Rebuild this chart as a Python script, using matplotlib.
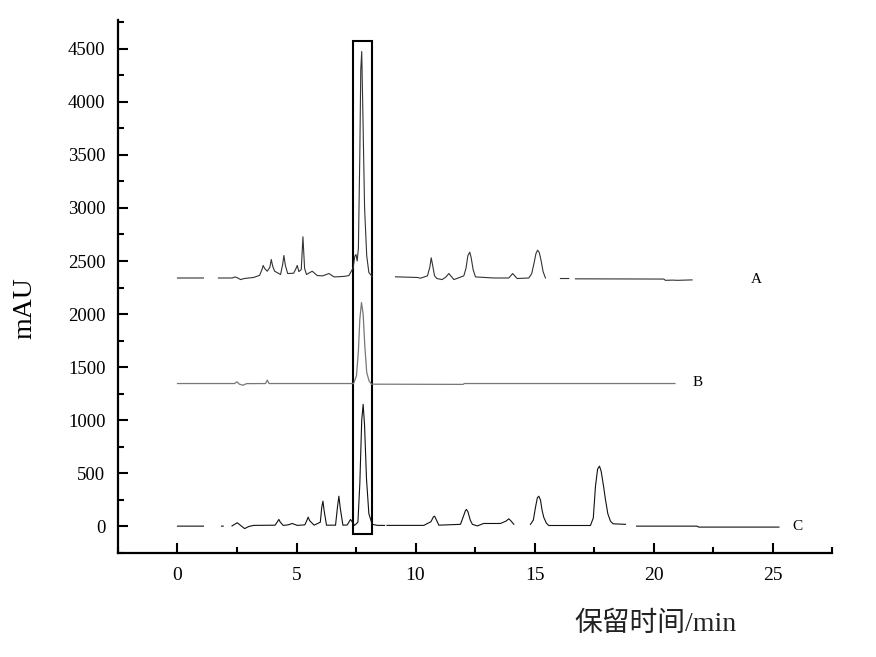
import numpy as np
import matplotlib
matplotlib.use("Agg")
import matplotlib.pyplot as plt
from matplotlib.patches import Rectangle
from matplotlib.ticker import MultipleLocator

nan = np.nan

# trace A (offset chromatogram), nan = gap in the printed trace
time_a = [0.0, 1.09, nan,
          1.72, 2.3, 2.42, 2.55, 2.65, 2.8, 3.2, 3.45, 3.55, 3.6, 3.66, 3.77, 3.88,
          3.94, 4.0, 4.08, 4.33, 4.42, 4.47, 4.53, 4.63, 4.88, 4.98, 5.03, 5.1,
          5.2, 5.27, 5.34, 5.42, 5.66, 5.87, 6.1, 6.36, 6.58, 7.0, 7.2, 7.38,
          7.45, 7.5, 7.55, 7.6, 7.66, 7.7, 7.74, 7.78, 7.86, 7.95, 8.04, 8.18, nan,
          9.16, 10.07, 10.21, 10.5, 10.6, 10.66, 10.72, 10.8, 10.9, 11.12, 11.28,
          11.4, 11.52, 11.61, 12.03, 12.12, 12.2, 12.28, 12.34, 12.42, 12.52, 13.29,
          13.92, 14.0, 14.08, 14.17, 14.27, 14.76, 14.88, 14.98, 15.06, 15.13,
          15.2, 15.28, 15.36, 15.46, nan,
          16.09, 16.44, nan,
          16.72, 20.43, 20.5, 20.8, 21.0, 21.62]
mau_a = [2340, 2340, nan,
         2340, 2340, 2350, 2338, 2325, 2335, 2345, 2365, 2420, 2458, 2430, 2404, 2440,
         2514, 2450, 2404, 2373, 2470, 2552, 2460, 2382, 2385, 2430, 2458, 2400,
         2420, 2728, 2430, 2373, 2404, 2363, 2360, 2382, 2350, 2355, 2363, 2435,
         2545, 2561, 2500, 2620, 3500, 4300, 4473, 4000, 3000, 2550, 2392, 2354, nan,
         2351, 2345, 2338, 2360, 2440, 2530, 2460, 2360, 2335, 2325, 2350,
         2382, 2350, 2325, 2360, 2430, 2550, 2583, 2530, 2420, 2350, 2340,
         2340, 2360, 2382, 2360, 2335, 2340, 2380, 2480, 2570, 2602,
         2580, 2500, 2400, 2340, nan,
         2335, 2335, nan,
         2332, 2330, 2318, 2320, 2318, 2322]

# trace B
time_b = [0.0, 2.4, 2.5, 2.6, 2.75, 2.9, 3.7, 3.77, 3.85, 7.4, 7.52, 7.6, 7.66,
          7.73, 7.8, 7.87, 7.95, 8.05, 8.15, 12.0, 12.05, 20.9]
mau_b = [1346, 1346, 1362, 1340, 1330, 1345, 1346, 1378, 1346, 1346, 1420, 1650, 1950,
         2109, 2000, 1700, 1450, 1370, 1340, 1338, 1346, 1346]

# trace C
time_c = [0.0, 1.09, nan,
          1.85, 1.92, nan,
          2.29, 2.51, 2.65, 2.82, 3.0, 3.2, 4.1, 4.2, 4.26, 4.32, 4.44, 4.65, 4.82,
          5.03, 5.35, 5.44, 5.49, 5.55, 5.74, 6.0, 6.06, 6.11, 6.16, 6.26, 6.64,
          6.72, 6.78, 6.84, 6.95, 7.13, 7.27, 7.44, 7.58, 7.66, 7.74, 7.8, 7.86,
          7.94, 8.04, 8.18, 8.4, 8.7, nan,
          8.8, 10.35, 10.65, 10.75, 10.8, 10.86, 10.98, 11.89, 12.02, 12.1, 12.14,
          12.2, 12.3, 12.39, 12.6, 12.86, 13.57, 13.8, 13.92, 14.02, 14.13, nan,
          14.83, 14.95, 15.04, 15.12, 15.18, 15.25, 15.32, 15.39, 15.5, 15.6, 17.35,
          17.47, 17.56, 17.65, 17.73, 17.8, 17.9, 17.98, 18.08, 18.19, 18.3, 18.82, nan,
          19.29, 21.83, 21.9, 25.27]
mau_c = [3, 3, nan,
         3, 3, nan,
         5, 35, 10, -20, 0, 10, 12, 45, 66, 40, 10, 15, 28,
         10, 15, 60, 88, 55, 12, 40, 180, 238, 150, 12, 12,
         180, 285, 170, 12, 14, 66, 10, 40, 400, 1000, 1150, 950,
         450, 120, 20, 10, 10, nan,
         10, 10, 45, 90, 97, 70, 12, 20, 100, 150, 160,
         140, 60, 20, 5, 28, 28, 50, 72, 50, 20, nan,
         20, 60, 179, 270, 285, 250, 150, 85, 30, 9, 9,
         80, 376, 540, 568, 520, 380, 254, 120, 50, 25, 20, nan,
         3, 3, -6, -6]

trace_names = ['A', 'B', 'C']
label_pos = [(24.33, 2325), (21.85, 1356), (26.06, 0)]

# box around the marked peak
box_t = [7.39, 8.19]
box_mau = [-75, 4570]

fig = plt.figure(figsize=(8.76, 6.57), dpi=100)
ax = fig.add_axes([0.1347, 0.1583, 0.8151, 0.8113])

ax.plot(time_a, mau_a, color='#333333', lw=0.8)
ax.plot(time_b, mau_b, color='#777777', lw=0.9)
ax.plot(time_c, mau_c, color='#111111', lw=0.8)

ax.add_patch(Rectangle((box_t[0], box_mau[0]), box_t[1] - box_t[0],
                       box_mau[1] - box_mau[0], fill=False, ec='black', lw=1.5))

for name, (tx, ty) in zip(trace_names, label_pos):
    ax.text(tx, ty, name, ha='center', va='center', fontsize=11,
            family='Liberation Serif')

ax.set_xlim(-2.5, 27.5)
ax.set_ylim(-250, 4770)
ax.xaxis.set_major_locator(MultipleLocator(5))
ax.xaxis.set_minor_locator(MultipleLocator(2.5))
ax.yaxis.set_major_locator(MultipleLocator(500))
ax.yaxis.set_minor_locator(MultipleLocator(250))

for s in ['top', 'right']:
    ax.spines[s].set_visible(False)
for s in ['left', 'bottom']:
    ax.spines[s].set_linewidth(1.6)

ax.tick_params(which='major', direction='in', length=7, width=1.5)
ax.tick_params(which='minor', direction='in', length=4, width=1.5)
ax.tick_params(axis='x', which='major', pad=10, labelsize=14)
ax.tick_params(axis='y', which='major', pad=9, labelsize=13.5)
for lab in ax.get_xticklabels() + ax.get_yticklabels():
    lab.set_family('Liberation Serif')

ax.set_ylabel('mAU', family='Liberation Serif', fontsize=20)
ax.yaxis.set_label_coords(-0.113, 0.46)
ax.set_xlabel('保留时间/min', family=['Liberation Serif', 'Noto Sans CJK SC'],
              fontsize=20, color='#222222')
ax.xaxis.set_label_coords(0.753, -0.11)

fig.savefig('out.png', dpi=100, facecolor='white')
